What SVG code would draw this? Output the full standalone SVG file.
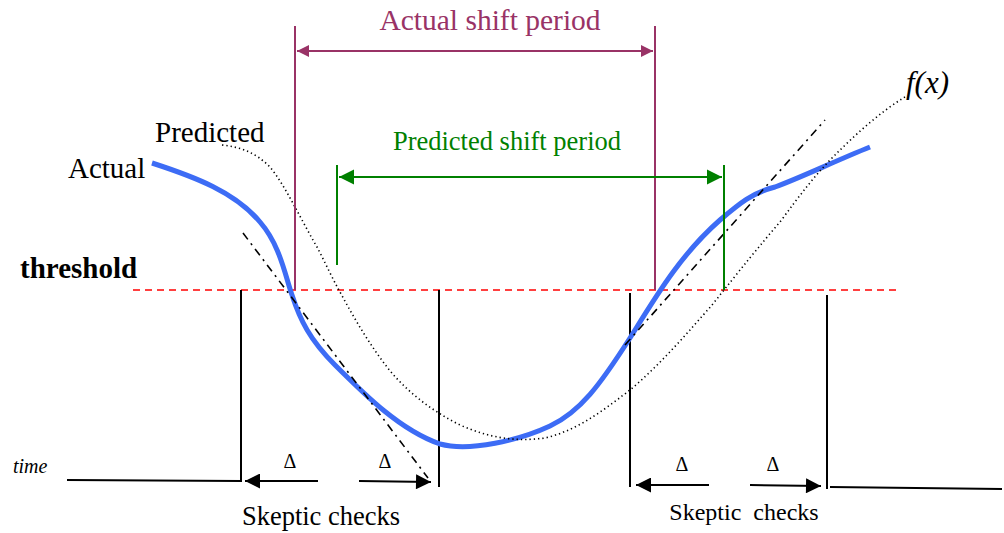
<svg xmlns="http://www.w3.org/2000/svg" width="1004" height="533" viewBox="0 0 1004 533" font-family="'Liberation Serif', 'DejaVu Serif', 'Times New Roman', serif">
<style>
.blk{stroke:#000;stroke-width:2;fill:none}
.pur{stroke:#993366;stroke-width:2;fill:none}
.grn{stroke:#008000;stroke-width:2;fill:none}
.thr{stroke:#ff0000;stroke-width:1.5;stroke-dasharray:7 5;fill:none}
.dot{stroke:#000;stroke-width:1.6;stroke-dasharray:1.3 3;fill:none}
.dd{stroke:#000;stroke-width:1.6;stroke-dasharray:8 5 2 5;fill:none}
.act{stroke:#3d6cf5;stroke-width:5;fill:none;stroke-linejoin:round;stroke-linecap:butt}
</style>
<defs>
<marker id="ab" viewBox="0 0 10 10" refX="10" refY="5" markerWidth="8.5" markerHeight="7.5" markerUnits="strokeWidth" orient="auto-start-reverse"><path d="M0,0 L10,5 L0,10 z" fill="#000"/></marker>
<marker id="ap" viewBox="0 0 10 10" refX="10" refY="5" markerWidth="7.5" markerHeight="6" markerUnits="strokeWidth" orient="auto-start-reverse"><path d="M0,0 L10,5 L0,10 z" fill="#993366"/></marker>
<marker id="ag" viewBox="0 0 10 10" refX="10" refY="5" markerWidth="7.5" markerHeight="8" markerUnits="strokeWidth" orient="auto-start-reverse"><path d="M0,0 L10,5 L0,10 z" fill="#008000"/></marker>
</defs>

<g id="threshold">
<line class="thr" x1="133" y1="290" x2="897" y2="290"/>
<text x="20" y="278" font-size="29" font-weight="bold">threshold</text>
</g>

<g id="axis">
<line class="blk" x1="67" y1="480" x2="241" y2="481"/>
<line class="blk" x1="830" y1="487" x2="1002" y2="489"/>
<text x="13" y="473" font-size="20" font-style="italic">time</text>
</g>

<g id="markers">
<line class="blk" x1="241" y1="290" x2="241" y2="482"/>
<line class="blk" x1="439" y1="290" x2="439" y2="487"/>
<line class="blk" x1="630" y1="293" x2="630" y2="487"/>
<line class="blk" x1="827" y1="295" x2="827" y2="489"/>
</g>

<g id="curves">
<path class="act" d="M152,163 C195,177 235,192 260,222 C280,245 285,275 292,295 C300,320 310,340 335,365 C365,395 400,430 440,444 C470,452 520,440 550,426 C580,412 600,385 630,338 C655,298 680,255 720,220 C740,203 752,193 775,187 C800,178 835,161 870,147"/>
<path class="dot" d="M222,145 C240,147 255,152 270,167 C285,185 300,218 317,247 C325,262 332,278 340,292 C355,320 370,345 387,367 C405,390 430,410 460,425 C490,438 515,442 545,438 C580,430 610,405 630,390 C660,365 690,330 712,305 C740,270 760,245 780,222 C800,195 815,175 835,155 C855,135 880,112 905,97"/>
<line class="dd" x1="243" y1="233" x2="428" y2="478"/>
<line class="dd" x1="625" y1="345" x2="825" y2="120"/>
<text x="68" y="178" font-size="29">Actual</text>
<text x="155" y="142" font-size="29">Predicted</text>
<text x="906" y="93" font-size="31" font-style="italic">f(x)</text>
</g>

<g id="actual-shift">
<line class="pur" x1="295" y1="26" x2="295" y2="290"/>
<line class="pur" x1="655" y1="26" x2="655" y2="290"/>
<line class="pur" x1="297" y1="51" x2="653" y2="51" marker-start="url(#ap)" marker-end="url(#ap)"/>
<text x="490" y="30" font-size="29.5" fill="#993366" text-anchor="middle">Actual shift period</text>
</g>

<g id="predicted-shift">
<line class="grn" x1="337" y1="165" x2="337" y2="265"/>
<line class="grn" x1="724" y1="165" x2="724" y2="290"/>
<line class="grn" x1="339" y1="177" x2="722" y2="177" marker-start="url(#ag)" marker-end="url(#ag)"/>
<text x="507" y="150" font-size="26.5" fill="#008000" text-anchor="middle">Predicted shift period</text>
</g>

<g id="skeptic-left">
<line class="blk" x1="318" y1="481" x2="245" y2="481" marker-end="url(#ab)"/>
<line class="blk" x1="359" y1="481" x2="431" y2="482" marker-end="url(#ab)"/>
<text x="290" y="468" font-size="20" text-anchor="middle">Δ</text>
<text x="385" y="468" font-size="20" text-anchor="middle">Δ</text>
<text x="321" y="525" font-size="26.5" text-anchor="middle">Skeptic checks</text>
</g>

<g id="skeptic-right">
<line class="blk" x1="709" y1="485" x2="636" y2="485" marker-end="url(#ab)"/>
<line class="blk" x1="750" y1="485" x2="821" y2="486" marker-end="url(#ab)"/>
<text x="682" y="471" font-size="20" text-anchor="middle">Δ</text>
<text x="773" y="471" font-size="20" text-anchor="middle">Δ</text>
<text x="744" y="520" font-size="24" text-anchor="middle" xml:space="preserve">Skeptic  checks</text>
</g>
</svg>
